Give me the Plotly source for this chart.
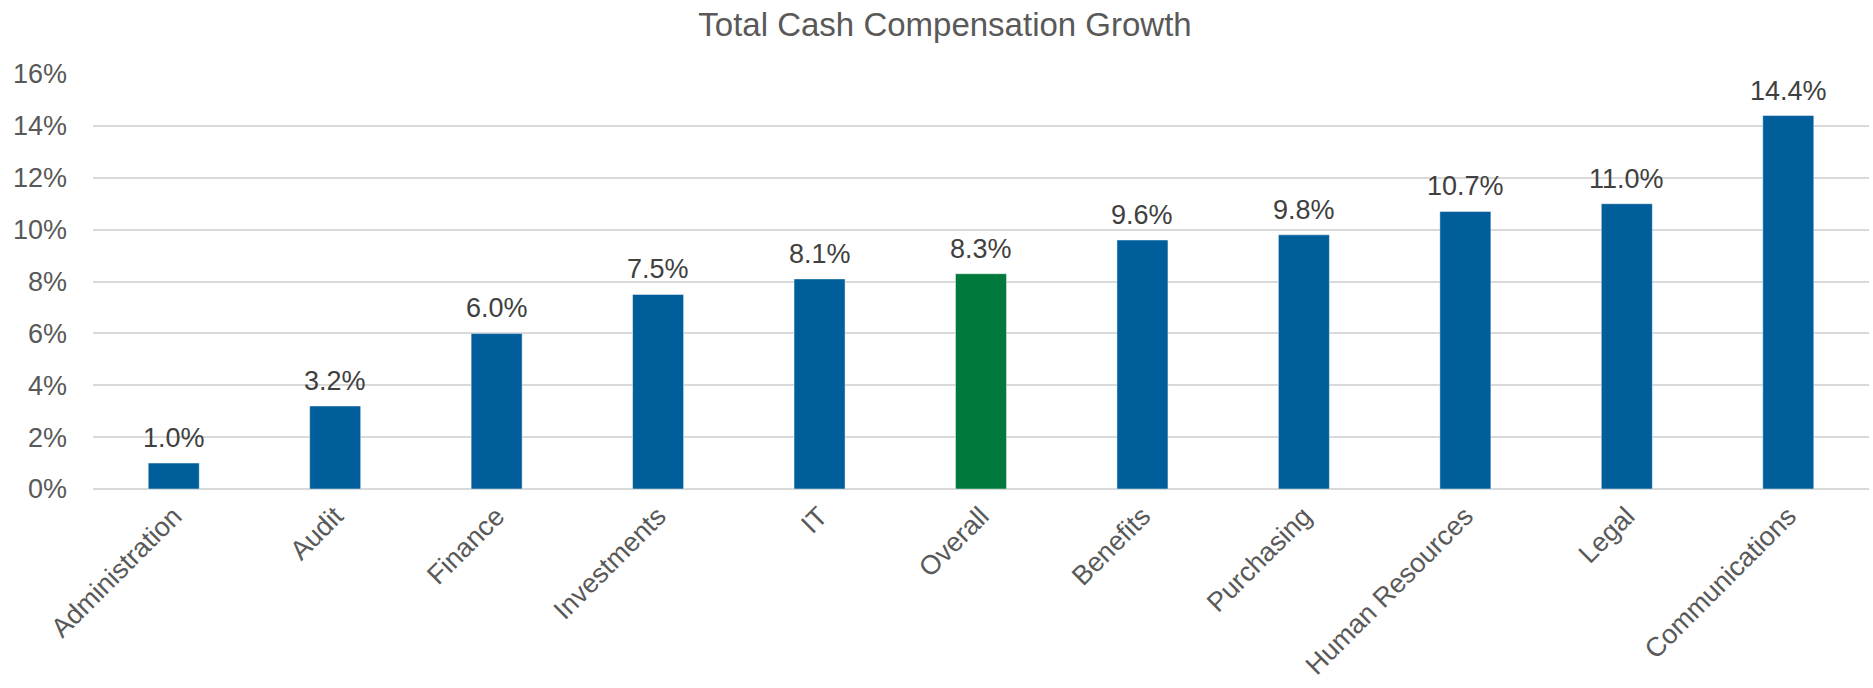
import plotly.graph_objects as go

categories = ["Administration", "Audit", "Finance", "Investments", "IT", "Overall",
              "Benefits", "Purchasing", "Human Resources", "Legal", "Communications"]
growth = [1.0, 3.2, 6.0, 7.5, 8.1, 8.3, 9.6, 9.8, 10.7, 11.0, 14.4]
highlight = "Overall"

BLUE = "#005F9B"
GREEN = "#007A3C"
colors = [GREEN if c == highlight else BLUE for c in categories]

fig = go.Figure(
    go.Bar(
        x=categories,
        y=growth,
        marker=dict(color=colors, line=dict(color="rgba(255,255,255,0.45)", width=1)),
        width=0.316,
        hoverinfo="x+y",
    )
)

# value labels above each bar
for cat, val in zip(categories, growth):
    fig.add_annotation(
        x=cat,
        y=val,
        text=f"{val:.1f}%",
        showarrow=False,
        xanchor="center",
        yanchor="bottom",
        yshift=8,
        font=dict(size=27, color="#404040"),
    )

fig.update_layout(
    width=1873,
    height=688,
    margin=dict(l=93, r=4, t=74, b=199),
    paper_bgcolor="white",
    plot_bgcolor="white",
    font=dict(family="Liberation Sans, Arial, sans-serif", color="#595959"),
    title=dict(
        text="Total Cash Compensation Growth",
        x=945 / 1873,
        xanchor="center",
        y=0.965,
        yanchor="middle",
        font=dict(size=33, color="#595959"),
    ),
    showlegend=False,
    xaxis=dict(
        tickangle=-45,
        tickfont=dict(size=27, color="#595959"),
        showline=False,
        ticks="",
        ticklabelstandoff=5,
        automargin=False,
    ),
    yaxis=dict(
        range=[0, 16],
        dtick=2,
        ticksuffix="%",
        tickfont=dict(size=27, color="#595959"),
        showgrid=True,
        gridcolor="#D9D9D9",
        gridwidth=1.5,
        zeroline=True,
        zerolinecolor="#D9D9D9",
        zerolinewidth=1.5,
        ticks="",
        ticklabelstandoff=25,
        automargin=False,
    ),
)

fig.write_html("out.html")
